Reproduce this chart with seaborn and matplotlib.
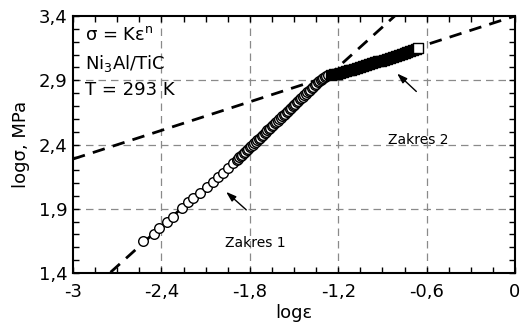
import matplotlib
matplotlib.use("Agg")
import matplotlib.pyplot as plt
import seaborn as sns
import numpy as np
import pandas as pd
from matplotlib.ticker import FixedLocator, MultipleLocator

# ---- data ----
# range 1 (open circles)
r1_x = [-2.523, -2.450, -2.414, -2.364, -2.319, -2.262, -2.217, -2.183, -2.138,
        -2.092, -2.048, -2.014, -1.980, -1.946, -1.912,
        -1.89, -1.88, -1.87, -1.86, -1.85, -1.84, -1.83, -1.82, -1.81, -1.80,
        -1.79, -1.78, -1.77, -1.76, -1.75, -1.74, -1.73, -1.72, -1.71, -1.70,
        -1.69, -1.68, -1.67, -1.66, -1.65, -1.64, -1.63, -1.62, -1.61, -1.60,
        -1.59, -1.58, -1.57, -1.56, -1.55, -1.54, -1.53, -1.52, -1.51, -1.50,
        -1.49, -1.48, -1.47, -1.46, -1.45, -1.44, -1.43, -1.42, -1.41, -1.40,
        -1.39, -1.38, -1.37, -1.36, -1.35, -1.34, -1.33, -1.32, -1.31, -1.30,
        -1.29, -1.28, -1.27]
r1_y = [1.649, 1.704, 1.753, 1.800, 1.838, 1.908, 1.955, 1.981, 2.020,
        2.067, 2.110, 2.145, 2.176, 2.215, 2.254,
        2.278, 2.289, 2.300, 2.311, 2.322, 2.333, 2.344, 2.355, 2.366, 2.377,
        2.388, 2.399, 2.410, 2.421, 2.432, 2.443, 2.454, 2.465, 2.476, 2.487,
        2.498, 2.509, 2.520, 2.531, 2.542, 2.553, 2.564, 2.575, 2.586, 2.597,
        2.608, 2.619, 2.630, 2.641, 2.652, 2.663, 2.674, 2.685, 2.696, 2.707,
        2.718, 2.729, 2.740, 2.751, 2.762, 2.773, 2.784, 2.795, 2.806, 2.817,
        2.828, 2.839, 2.850, 2.861, 2.872, 2.883, 2.893, 2.903, 2.912, 2.920,
        2.927, 2.932, 2.937]
# range 2 (dense squares)
r2_x = [-1.25, -1.23, -1.21, -1.19, -1.17, -1.15, -1.13, -1.11, -1.09, -1.07,
        -1.05, -1.03, -1.01, -0.99, -0.97, -0.95, -0.93, -0.91, -0.89, -0.87,
        -0.85, -0.83, -0.81, -0.79, -0.77, -0.75, -0.73, -0.71, -0.69, -0.67]
r2_y = [2.940, 2.946, 2.951, 2.957, 2.963, 2.969, 2.976, 2.983, 2.990, 2.997,
        3.004, 3.011, 3.018, 3.025, 3.032, 3.039, 3.046, 3.053, 3.060, 3.067,
        3.074, 3.081, 3.089, 3.096, 3.103, 3.110, 3.118, 3.126, 3.134, 3.142]
end_x = [-0.655]
end_y = [3.148]

# fitted power-law lines (log form: y = b + n*x)
fit1_x = [-2.85, -0.75]
fit1_n, fit1_b = 1.034, 4.244
fit2_x = [-3.0, 0.0]
fit2_n, fit2_b = 0.371, 3.40

x_ticks = [-3.0, -2.4, -1.8, -1.2, -0.6, 0.0]
x_ticklabels = ["-3", "-2,4", "-1,8", "-1,2", "-0,6", "0"]
y_ticks = [1.4, 1.9, 2.4, 2.9, 3.4]
y_ticklabels = ["1,4", "1,9", "2,4", "2,9", "3,4"]

# ---- style ----
sns.set_style("white")
plt.rcParams["font.family"] = ["DejaVu Sans"]
plt.rcParams["mathtext.fontset"] = "dejavusans"
plt.rcParams["axes.unicode_minus"] = False
for k in ["text.color", "axes.labelcolor", "xtick.color", "ytick.color"]:
    plt.rcParams[k] = "black"

fig = plt.figure(figsize=(5.2, 3.25), dpi=100)
ax = fig.add_axes([73 / 520, 1 - 273 / 325, 442 / 520, 257 / 325])

# grid
for xv in x_ticks[1:-1]:
    ax.axvline(xv, color="#8a8a8a", lw=0.9, ls=(0, (6, 4)), zorder=0)
for yv in y_ticks[1:-1]:
    ax.axhline(yv, color="#8a8a8a", lw=0.9, ls=(0, (6, 4)), zorder=0)

# fit lines
f1 = pd.DataFrame({"x": fit1_x, "y": [fit1_b + fit1_n * v for v in fit1_x]})
f2 = pd.DataFrame({"x": fit2_x, "y": [fit2_b + fit2_n * v for v in fit2_x]})
sns.lineplot(data=f1, x="x", y="y", ax=ax, color="black", lw=2.0,
             linestyle=(0, (4.5, 3)), zorder=2)
sns.lineplot(data=f2, x="x", y="y", ax=ax, color="black", lw=2.0,
             linestyle=(0, (4.5, 3)), zorder=2)

# data points
d1 = pd.DataFrame({"x": r1_x, "y": r1_y})
d2 = pd.DataFrame({"x": r2_x, "y": r2_y})
de = pd.DataFrame({"x": end_x, "y": end_y})
sns.scatterplot(data=d1, x="x", y="y", ax=ax, marker="o", s=48,
                facecolor="white", edgecolor="black", linewidth=1.0, zorder=3)
sns.scatterplot(data=d2, x="x", y="y", ax=ax, marker="s", s=55,
                facecolor="black", edgecolor="black", linewidth=1.0, zorder=3)
sns.scatterplot(data=de, x="x", y="y", ax=ax, marker="s", s=50,
                facecolor="white", edgecolor="black", linewidth=1.0, zorder=4)

# annotations
ax.text(-1.968, 1.631, "Zakres 1", fontsize=10, va="center", ha="left")
ax.text(-0.861, 2.435, "Zakres 2", fontsize=10, va="center", ha="left")
ax.annotate("", xy=(-1.975, 2.046), xytext=(-1.810, 1.877),
            arrowprops=dict(arrowstyle="-|>,head_length=0.6,head_width=0.2",
                            color="black", lw=1.0))
ax.annotate("", xy=(-0.814, 2.967), xytext=(-0.656, 2.798),
            arrowprops=dict(arrowstyle="-|>,head_length=0.6,head_width=0.2",
                            color="black", lw=1.0))

ax.text(-2.918, 3.254, r"σ = Kε$^{\mathregular{n}}$", fontsize=13, va="center", ha="left")
ax.text(-2.918, 3.034, r"Ni$_{\mathregular{3}}$Al/TiC", fontsize=13, va="center", ha="left")
ax.text(-2.918, 2.826, "T = 293 K", fontsize=13, va="center", ha="left")

# axes
ax.set_xlim(-3, 0)
ax.set_ylim(1.4, 3.4)
ax.xaxis.set_major_locator(FixedLocator(x_ticks))
ax.yaxis.set_major_locator(FixedLocator(y_ticks))
ax.set_xticklabels(x_ticklabels)
ax.set_yticklabels(y_ticklabels)
ax.xaxis.set_minor_locator(MultipleLocator(0.15))
ax.yaxis.set_minor_locator(MultipleLocator(0.1))
ax.tick_params(which="both", direction="in", top=True, right=True, bottom=True, left=True,
               length=4, width=1.0, color="black")
ax.tick_params(axis="x", which="major", labelsize=13, pad=7)
ax.tick_params(axis="y", which="major", labelsize=13, pad=4)
for s in ax.spines.values():
    s.set_color("black")
    s.set_linewidth(1.5)

ax.set_xlabel("logε", fontsize=13, labelpad=2)
ax.set_ylabel("logσ, MPa", fontsize=13, labelpad=6)

fig.savefig("out.png", dpi=100)
